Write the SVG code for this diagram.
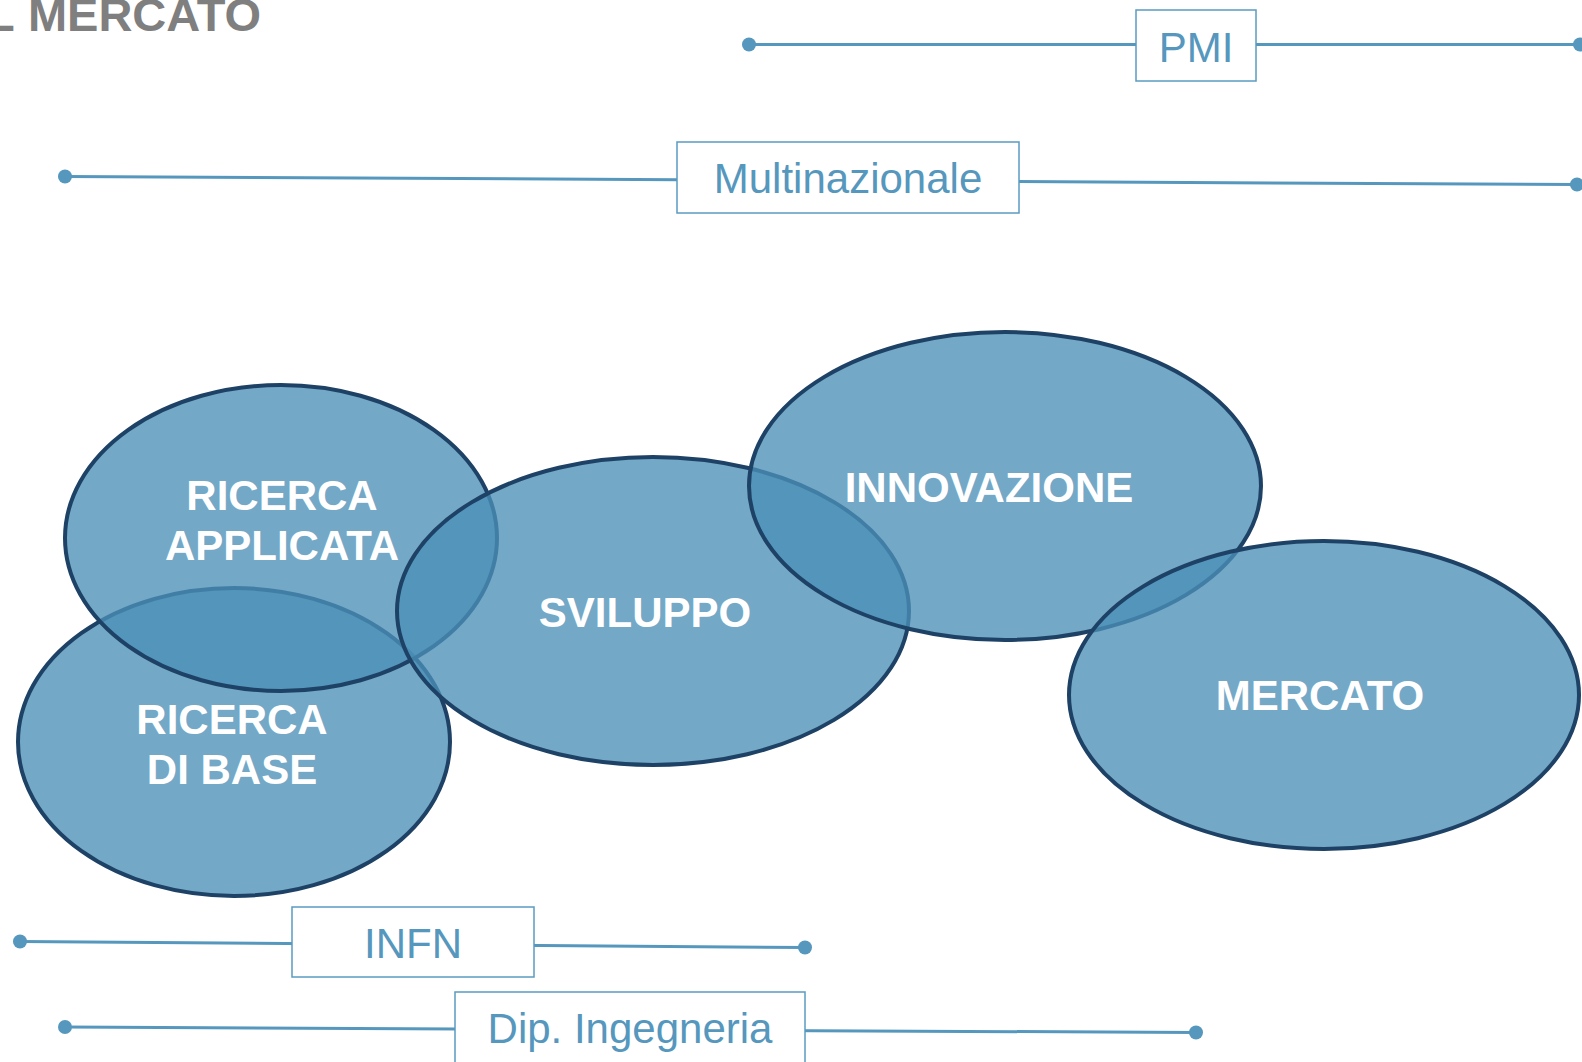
<svg xmlns="http://www.w3.org/2000/svg" width="1582" height="1062" viewBox="0 0 1582 1062">
<style>
.bg{fill:#ffffff}
.ell{fill:#4b8fb7;fill-opacity:0.78;stroke:#1e4266;stroke-width:4}
.et{font-family:"Liberation Sans",Arial,sans-serif;font-weight:bold;font-size:42px;fill:#ffffff;text-anchor:middle}
.box{fill:#ffffff;stroke:#5a9bc1;stroke-width:1.5}
.bt{font-family:"Liberation Sans",Arial,sans-serif;font-size:42px;fill:#5697bd;text-anchor:middle}
.ln{stroke:#5697bd;stroke-width:3;fill:none}
.dot{fill:#5697bd}
.title{font-family:"Liberation Sans",Arial,sans-serif;font-weight:bold;font-size:47px;fill:#7f7f7f}
</style>
<rect class="bg" x="0" y="0" width="1582" height="1062"/>
<text class="title" x="-14" y="31" word-spacing="1">L MERCATO</text>

<g id="connectors">
  <line class="ln" x1="749" y1="44.5" x2="1580" y2="44.5"/>
  <circle class="dot" cx="749" cy="44.5" r="7"/>
  <circle class="dot" cx="1580" cy="44.5" r="7"/>
  <line class="ln" x1="65" y1="176.5" x2="1577" y2="184.5"/>
  <circle class="dot" cx="65" cy="176.5" r="7"/>
  <circle class="dot" cx="1577" cy="184.5" r="7"/>
  <line class="ln" x1="20" y1="941.5" x2="805" y2="947.5"/>
  <circle class="dot" cx="20" cy="941.5" r="7"/>
  <circle class="dot" cx="805" cy="947.5" r="7"/>
  <line class="ln" x1="65" y1="1027" x2="1196" y2="1032.5"/>
  <circle class="dot" cx="65" cy="1027" r="7"/>
  <circle class="dot" cx="1196" cy="1032.5" r="7"/>
</g>

<g id="node-pmi">
  <rect class="box" x="1136" y="10" width="120" height="71"/>
  <text class="bt" x="1196" y="62">PMI</text>
</g>
<g id="node-multinazionale">
  <rect class="box" x="677" y="142" width="342" height="71"/>
  <text class="bt" x="848" y="193">Multinazionale</text>
</g>
<g id="node-infn">
  <rect class="box" x="292" y="907" width="242" height="70"/>
  <text class="bt" x="413" y="958">INFN</text>
</g>
<g id="node-dip">
  <rect class="box" x="455" y="992" width="350" height="72"/>
  <text class="bt" x="630" y="1043">Dip. Ingegneria</text>
</g>

<g id="node-ricerca-base">
  <ellipse class="ell" cx="234" cy="742" rx="216" ry="154"/>
  <text class="et" x="232" y="734">RICERCA</text>
  <text class="et" x="232" y="784">DI BASE</text>
</g>
<g id="node-ricerca-applicata">
  <ellipse class="ell" cx="281" cy="538" rx="216" ry="153"/>
  <text class="et" x="282" y="510">RICERCA</text>
  <text class="et" x="282" y="560">APPLICATA</text>
</g>
<g id="node-sviluppo">
  <ellipse class="ell" cx="653" cy="611" rx="256" ry="154"/>
  <text class="et" x="645" y="627">SVILUPPO</text>
</g>
<g id="node-innovazione">
  <ellipse class="ell" cx="1005" cy="486" rx="256" ry="154"/>
  <text class="et" x="989" y="502">INNOVAZIONE</text>
</g>
<g id="node-mercato">
  <ellipse class="ell" cx="1324" cy="695" rx="255" ry="154"/>
  <text class="et" x="1320" y="710">MERCATO</text>
</g>
</svg>
